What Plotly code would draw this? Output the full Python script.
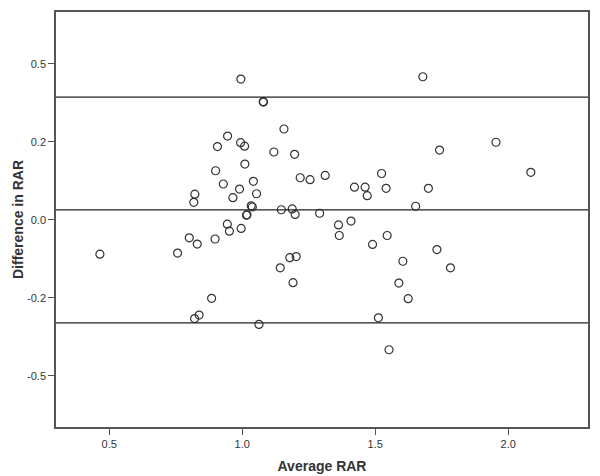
import plotly.graph_objects as go

# Bland-Altman: average vs difference in RAR
avg_rar = [0.465, 0.757, 0.801, 0.818, 0.822, 0.838, 0.821, 0.885, 0.831, 0.898,
           0.900, 0.907, 0.929, 0.945, 0.944, 0.952, 0.965, 0.990, 0.994, 1.009,
           0.995, 0.996, 1.010, 1.018, 1.016, 1.034, 1.038, 1.042, 1.054, 1.063,
           1.079, 1.080, 1.119, 1.143, 1.147, 1.157, 1.179, 1.203, 1.188, 1.191,
           1.197, 1.199, 1.218, 1.255, 1.291, 1.312, 1.362, 1.365, 1.409, 1.422,
           1.462, 1.470, 1.490, 1.512, 1.524, 1.541, 1.545, 1.552, 1.589, 1.604,
           1.624, 1.652, 1.679, 1.700, 1.732, 1.742, 1.783, 1.954, 2.085]
diff_rar = [-0.088, -0.085, -0.046, 0.045, 0.066, -0.244, -0.253, -0.201, -0.062, -0.049,
            0.126, 0.188, 0.092, 0.215, -0.011, -0.029, 0.057, 0.079, 0.198, 0.189,
            0.361, -0.022, 0.143, 0.013, 0.012, 0.036, 0.033, 0.099, 0.067, -0.268,
            0.303, 0.302, 0.174, -0.123, 0.026, 0.233, -0.097, -0.094, 0.028, -0.161,
            0.168, 0.014, 0.108, 0.103, 0.017, 0.114, -0.013, -0.040, -0.003, 0.084,
            0.084, 0.062, -0.063, -0.251, 0.119, 0.081, -0.040, -0.333, -0.162, -0.106,
            -0.202, 0.035, 0.367, 0.081, -0.076, 0.179, -0.123, 0.199, 0.122]

mean_diff = 0.0256
upper_loa = 0.315
lower_loa = -0.264

x_ticks = [0.5, 1.0, 1.5, 2.0]
x_labels = ['0.5', '1.0', '1.5', '2.0']
y_ticks = [0.4, 0.2, 0.0, -0.2, -0.4]
y_labels = ['0.5', '0.2', '0.0', '-0.2', '-0.5']

fig = go.Figure()
fig.add_trace(go.Scatter(
    x=avg_rar, y=diff_rar, mode='markers',
    marker=dict(symbol='circle-open', size=8, color='#333333', line=dict(width=1.2)),
    showlegend=False))

for yv in [upper_loa, mean_diff, lower_loa]:
    fig.add_hline(y=yv, line=dict(color='#222222', width=1.3))

font = 'Liberation Sans, Arial, sans-serif'
fig.update_layout(
    width=600, height=476,
    margin=dict(l=56, r=12, t=12, b=49, autoexpand=False),
    paper_bgcolor='white', plot_bgcolor='white',
    font=dict(family=font, color='#333333', size=11),
)
fig.update_xaxes(
    range=[0.30, 2.30], tickvals=x_ticks, ticktext=x_labels, automargin=False,
    showgrid=False, zeroline=False, showline=True, linecolor='#555555', linewidth=1.5,
    mirror=True, ticks='outside', ticklen=6, tickcolor='#555555',
    title=dict(text='<b>Average RAR</b>', font=dict(size=14, color='#333333'), standoff=12))
fig.update_yaxes(
    range=[-0.531, 0.533], tickvals=y_ticks, ticktext=y_labels, automargin=False,
    showgrid=False, zeroline=False, showline=True, linecolor='#555555', linewidth=1.5,
    mirror=True, ticks='outside', ticklen=6, tickcolor='#555555',
    title=dict(text='<b>Difference in RAR</b>', font=dict(size=14, color='#333333'), standoff=0))

# drop the page's default body margin so the figure sits at the window corner
fig.write_html("out.html", config={'displayModeBar': False},
               post_script="document.body.style.margin='0';")
